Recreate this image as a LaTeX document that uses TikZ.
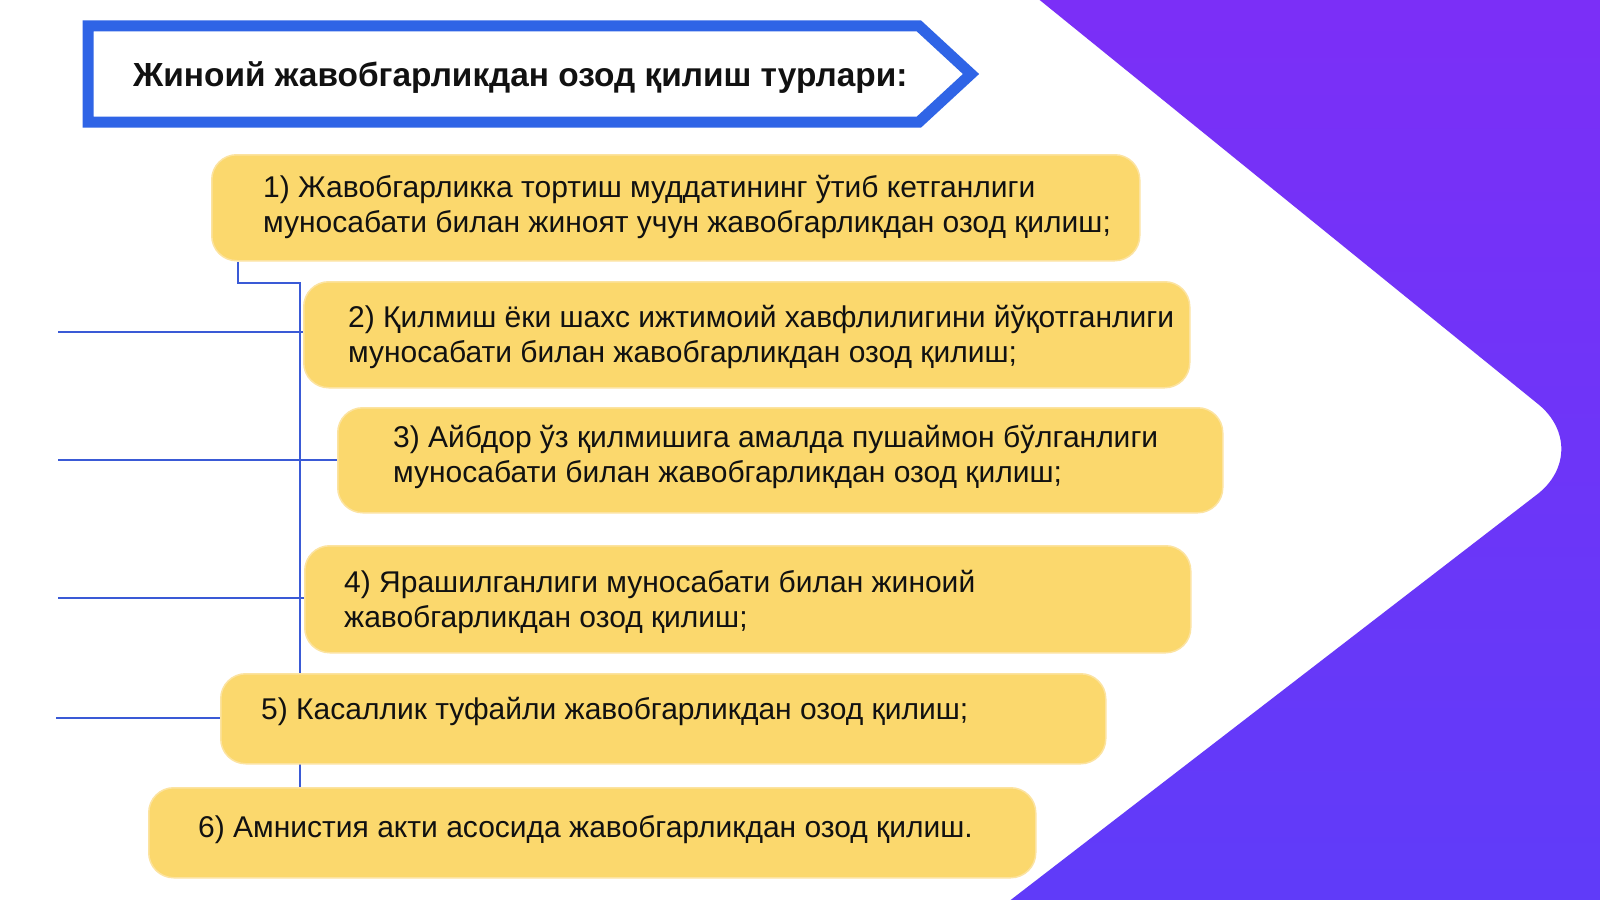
\documentclass[tikz,border=0pt]{standalone}
\usepackage{fontspec}
\setmainfont{Liberation Sans}
\definecolor{boxy}{HTML}{FBD86D}
\definecolor{boxglow}{HTML}{FCE3A0}
\definecolor{ink}{HTML}{111111}
\definecolor{lineblue}{HTML}{3A5AD6}
\definecolor{titleblue}{HTML}{2F64E6}
\definecolor{purpA}{HTML}{7D2EF7}
\definecolor{purpB}{HTML}{5E3CF9}
\pgfdeclarelayer{backdrop}
\pgfdeclarelayer{wires}
\pgfsetlayers{backdrop,wires,main}
\tikzset{
  ybox/.style={fill=boxy, draw=boxglow, line width=1.5pt, rounded corners=25pt, inner sep=0pt, anchor=north west},
  btext/.style={anchor=base west, inner sep=0pt, text=ink, font=\fontsize{30}{35}\selectfont},
  bline/.style={draw=lineblue, line width=2pt},
}
\newcommand{\twolines}[2]{\begin{tabular}[t]{@{}l@{}}#1\\#2\end{tabular}}
\begin{document}
\begin{tikzpicture}[x=1pt,y=-1pt]
\useasboundingbox (0,0) rectangle (1600,899);
\begin{pgfonlayer}{backdrop}
  \fill[white] (0,0) rectangle (1600,899);
  \begin{scope}
    \clip (0,0) rectangle (1600,899);
    \shade[top color=purpA, bottom color=purpB]
      (978,-50) -- (1650,-50) -- (1650,949) -- (947,949) -- (1537,494.5)
      .. controls (1569,470) and (1569.5,429.4) .. (1538,404) -- cycle;
  \end{scope}
\end{pgfonlayer}

% title
\draw[titleblue, line width=11pt, line join=miter]
  (88,26) -- (919,26) -- (971,74) -- (919,122) -- (88,122) -- cycle;
\node[anchor=base west, inner sep=0pt, text=ink, font=\bfseries\fontsize{33.4}{40}\selectfont] (ttext) at (133,86)
  {Жиноий жавобгарликдан озод қилиш турлари:};

% boxes
\node[ybox, minimum width=928pt, minimum height=106pt] (b1) at (211,154) {};
\node[ybox, minimum width=886pt, minimum height=106pt] (b2) at (303,281) {};
\node[ybox, minimum width=885pt, minimum height=105pt] (b3) at (337,407) {};
\node[ybox, minimum width=886pt, minimum height=107pt] (b4) at (304,545) {};
\node[ybox, minimum width=885pt, minimum height=90pt] (b5) at (220,673) {};
\node[ybox, minimum width=887pt, minimum height=90pt] (b6) at (148,787) {};

\node[btext] (t1) at (263,197) {\twolines{1) Жавобгарликка тортиш муддатининг ўтиб кетганлиги}{муносабати билан жиноят учун жавобгарликдан озод қилиш;}};
\node[btext] (t2) at (348,327) {\twolines{2) Қилмиш ёки шахс ижтимоий хавфлилигини йўқотганлиги}{муносабати билан жавобгарликдан озод қилиш;}};
\node[btext] (t3) at (393,447) {\twolines{3) Айбдор ўз қилмишига амалда пушаймон бўлганлиги}{муносабати билан жавобгарликдан озод қилиш;}};
\node[btext] (t4) at (344,592) {\twolines{4) Ярашилганлиги муносабати билан жиноий}{жавобгарликдан озод қилиш;}};
\node[btext] (t5) at (261,719) {5) Касаллик туфайли жавобгарликдан озод қилиш;};
\node[btext] (t6) at (198,837) {6) Амнистия акти асосида жавобгарликдан озод қилиш.};

% connectors (behind the boxes)
\coordinate (k1) at (238,283);
\coordinate (k2) at (300,283);
\coordinate (e2) at (58,332);
\coordinate (e3) at (58,460);
\coordinate (e4) at (58,598);
\coordinate (e5) at (56,718);
\begin{pgfonlayer}{wires}
  \draw[bline] (k1 |- b1.south) -- (k1) -- (k2) -- (k2 |- b6.north);
  \draw[bline] (e2) -- (e2 -| b2.west);
  \draw[bline] (e3) -- (e3 -| b3.west);
  \draw[bline] (e4) -- (e4 -| b4.west);
  \draw[bline] (e5) -- (e5 -| b5.west);
\end{pgfonlayer}
\end{tikzpicture}
\end{document}
